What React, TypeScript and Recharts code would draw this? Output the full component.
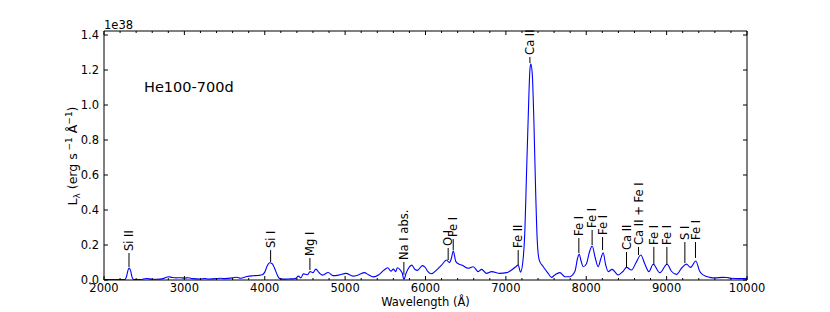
import React from 'react';
import { LineChart, Line, XAxis, YAxis, ReferenceLine, ReferenceDot } from 'recharts';

// Spectrum: wavelength (Å) and luminosity (1e38 erg/s/Å)
const wavelength = [
  2000, 2100, 2200, 2260, 2280, 2300, 2315, 2330, 2350, 2370, 2450, 2530, 2600, 2700, 2760, 2800, 2850, 2900, 2950, 3000,
  3050, 3100, 3200, 3250, 3300, 3400, 3450, 3500, 3600, 3650, 3700, 3780, 3850, 3920, 3970, 4000, 4030, 4060, 4090, 4120,
  4150, 4180, 4220, 4300, 4380, 4420, 4450, 4480, 4530, 4565, 4600, 4635, 4680, 4720, 4790, 4850, 4920, 5010, 5100, 5170,
  5240, 5290, 5350, 5420, 5480, 5530, 5570, 5600, 5630, 5650, 5690, 5710, 5731, 5760, 5800, 5830, 5870, 5900, 5960, 6000,
  6030, 6075, 6140, 6200, 6262, 6295, 6320, 6345, 6378, 6420, 6450, 6530, 6594, 6656, 6698, 6760, 6822, 6925, 7008, 7071,
  7124, 7153, 7183, 7210, 7237, 7257, 7278, 7299, 7310, 7328, 7349, 7370, 7390, 7415, 7465, 7527, 7568, 7609, 7672, 7734,
  7796, 7858, 7890, 7912, 7935, 7962, 8004, 8040, 8074, 8110, 8148, 8180, 8211, 8240, 8273, 8322, 8397, 8460, 8501, 8563,
  8620, 8679, 8730, 8779, 8833, 8915, 9006, 9060, 9122, 9190, 9247, 9297, 9363, 9413, 9454, 9537, 9600, 9700, 9750, 9800,
  9900, 10000,
];
const luminosity = [
  0.002, 0.002, 0.002, 0.003, 0.02, 0.058, 0.068, 0.055, 0.015, 0.003, 0.003, 0.009, 0.004, 0.005, 0.012, 0.019, 0.014, 0.012, 0.013, 0.011,
  0.013, 0.008, 0.006, 0.009, 0.006, 0.008, 0.01, 0.008, 0.012, 0.016, 0.01, 0.02, 0.024, 0.026, 0.03, 0.045, 0.08, 0.099, 0.094, 0.07,
  0.035, 0.01, 0.005, 0.006, 0.008, 0.022, 0.012, 0.035, 0.03, 0.048, 0.042, 0.062, 0.04, 0.028, 0.043, 0.025, 0.028, 0.038, 0.022, 0.03,
  0.042, 0.03, 0.018, 0.03, 0.055, 0.07, 0.05, 0.062, 0.048, 0.07, 0.055, 0.04, 0.004, 0.04, 0.075, 0.085, 0.06, 0.055, 0.082, 0.07,
  0.048, 0.036, 0.058, 0.085, 0.114, 0.1, 0.12, 0.165, 0.105, 0.09, 0.086, 0.067, 0.076, 0.048, 0.061, 0.038, 0.048, 0.038, 0.042, 0.057,
  0.076, 0.086, 0.045, 0.1, 0.29, 0.61, 0.93, 1.2, 1.235, 1.18, 0.9, 0.514, 0.229, 0.114, 0.076, 0.038, 0.015, 0.029, 0.042, 0.019,
  0.019, 0.048, 0.12, 0.149, 0.11, 0.076, 0.095, 0.16, 0.194, 0.13, 0.076, 0.12, 0.156, 0.09, 0.048, 0.061, 0.029, 0.05, 0.072, 0.057,
  0.1, 0.143, 0.09, 0.048, 0.09, 0.042, 0.09, 0.05, 0.032, 0.07, 0.091, 0.072, 0.109, 0.048, 0.029, 0.015, 0.012, 0.015, 0.014, 0.01,
  0.008, 0.008,
];

// Line identifications
const lineNames = ['Si II', 'Si I', 'Mg I', 'Na I abs.', 'O I', 'Fe I', 'Fe II', 'Ca II', 'Fe I', 'Fe I', 'Fe I', 'Ca II', 'Ca II + Fe I', 'Fe I', 'Fe I', 'S I', 'Fe I'];
const lineWave = [2311, 4073, 4562, 5731, 6282, 6345, 7153, 7299, 7908, 8073, 8203, 8501, 8650, 8841, 9003, 9227, 9359];
const lineLow = [0.074, 0.103, 0.057, 0.03, 0.114, 0.171, 0.086, 1.24, 0.154, 0.2, 0.171, 0.074, 0.143, 0.086, 0.086, 0.097, 0.126];
const lineHigh = [0.154, 0.171, 0.126, 0.103, 0.183, 0.234, 0.171, 1.275, 0.24, 0.286, 0.246, 0.16, 0.189, 0.189, 0.189, 0.217, 0.217];

const xTicks = [
  2000, 2200, 2400, 2600, 2800, 3000, 3200, 3400, 3600, 3800, 4000, 4200, 4400, 4600, 4800, 5000, 5200, 5400, 5600, 5800,
  6000, 6200, 6400, 6600, 6800, 7000, 7200, 7400, 7600, 7800, 8000, 8200, 8400, 8600, 8800, 9000, 9200, 9400, 9600, 9800, 10000,
];
const yTicks = [0, 0.2, 0.4, 0.6, 0.8, 1.0, 1.2, 1.4];

const data = wavelength.map((w, i) => ({ w, L: luminosity[i] }));

const FONT = '"DejaVu Sans", sans-serif';
const FS = 11.5;

const BottomTick = (props: any) => {
  const { x, y, payload } = props;
  const major = payload.value % 1000 === 0;
  return (
    <g>
      <line x1={x} x2={x} y1={y} y2={y - (major ? 4 : 2)} stroke="#000" strokeWidth={1} />
      {major && (
        <text x={x} y={y + 12} textAnchor="middle" fontSize={FS} fontFamily={FONT} fill="#000">
          {payload.value}
        </text>
      )}
    </g>
  );
};

const TopTick = (props: any) => {
  const { x, y, payload } = props;
  const major = payload.value % 1000 === 0;
  return <line x1={x} x2={x} y1={y} y2={y + (major ? 4 : 2)} stroke="#000" strokeWidth={1} />;
};

const LeftTick = (props: any) => {
  const { x, y, payload } = props;
  return (
    <g>
      <line x1={x} x2={x + 4} y1={y} y2={y} stroke="#000" strokeWidth={1} />
      <text x={x - 5} y={y} dy="0.36em" textAnchor="end" fontSize={FS} fontFamily={FONT} fill="#000">
        {Number(payload.value).toFixed(1)}
      </text>
    </g>
  );
};

const RightTick = (props: any) => {
  const { x, y } = props;
  return <line x1={x} x2={x - 4} y1={y} y2={y} stroke="#000" strokeWidth={1} />;
};

const makeLabelShape = (name: string) => (props: any) => {
  const { cx, cy } = props;
  const by = cy - 2;
  return (
    <text
      x={cx}
      y={by}
      dy="0.36em"
      transform={`rotate(-90 ${cx} ${by})`}
      textAnchor="start"
      fontSize={FS}
      fontFamily={FONT}
      fill="#000"
    >
      {name}
    </text>
  );
};

export default function App() {
  return (
    <div style={{ position: 'absolute', left: 0, top: 0, width: 830, height: 312, background: '#fff' }}>
      <LineChart width={830} height={312} data={data} margin={{ top: 0, right: 0, bottom: 0, left: 0 }}>
        <XAxis
          xAxisId="b"
          dataKey="w"
          type="number"
          domain={[2000, 10000]}
          ticks={xTicks}
          interval={0}
          tick={<BottomTick />}
          tickLine={false}
          tickSize={0}
          tickMargin={0}
          height={32}
          axisLine={{ stroke: '#000' }}
          allowDataOverflow
        />
        <XAxis
          xAxisId="t"
          orientation="top"
          dataKey="w"
          type="number"
          domain={[2000, 10000]}
          ticks={xTicks}
          interval={0}
          tick={<TopTick />}
          tickLine={false}
          tickSize={0}
          tickMargin={0}
          height={31}
          axisLine={{ stroke: '#000' }}
          allowDataOverflow
        />
        <YAxis
          yAxisId="l"
          type="number"
          domain={[0, 1.423]}
          ticks={yTicks}
          interval={0}
          tick={<LeftTick />}
          tickLine={false}
          tickSize={0}
          tickMargin={0}
          width={104}
          axisLine={{ stroke: '#000' }}
          allowDataOverflow
        />
        <YAxis
          yAxisId="r"
          orientation="right"
          type="number"
          domain={[0, 1.423]}
          ticks={yTicks}
          interval={0}
          tick={<RightTick />}
          tickLine={false}
          tickSize={0}
          tickMargin={0}
          width={83}
          axisLine={{ stroke: '#000' }}
          allowDataOverflow
        />
        <Line
          xAxisId="b"
          yAxisId="l"
          dataKey="L"
          type="monotone"
          stroke="#0000ff"
          strokeWidth={1.1}
          dot={false}
          isAnimationActive={false}
        />
        {lineNames.map((n, i) => (
          <ReferenceLine
            key={'seg' + i}
            xAxisId="b"
            yAxisId="l"
            segment={[{ x: lineWave[i], y: lineLow[i] }, { x: lineWave[i], y: lineHigh[i] }]}
            stroke="#000"
            strokeWidth={1}
            ifOverflow="visible"
          />
        ))}
        {lineNames.map((n, i) => (
          <ReferenceDot
            key={'lab' + i}
            xAxisId="b"
            yAxisId="l"
            x={lineWave[i]}
            y={lineHigh[i]}
            r={1}
            ifOverflow="visible"
            shape={makeLabelShape(n)}
          />
        ))}
      </LineChart>
      <svg width={830} height={312} style={{ position: 'absolute', left: 0, top: 0, pointerEvents: 'none' }}>
        <text x={104} y={29} fontSize={FS} fontFamily={FONT} fill="#000">1e38</text>
        <text x={144} y={92} fontSize={14.5} fontFamily={FONT} fill="#000">He100-700d</text>
        <text x={425.5} y={306} textAnchor="middle" fontSize={FS} fontFamily={FONT} fill="#000">Wavelength (Å)</text>
        <text
          x={72}
          y={156}
          dy="0.36em"
          transform="rotate(-90 72 156)"
          textAnchor="middle"
          fontSize={12.5}
          fontFamily={FONT}
          fill="#000"
        >
          L<tspan dy={3} fontSize={9}>λ</tspan>
          <tspan dy={-3}> (erg s</tspan>
          <tspan dy={-5} fontSize={9}> −1</tspan>
          <tspan dy={5}>  Å</tspan>
          <tspan dy={-5} fontSize={9}>−1</tspan>
          <tspan dy={5}>)</tspan>
        </text>
      </svg>
    </div>
  );
}
